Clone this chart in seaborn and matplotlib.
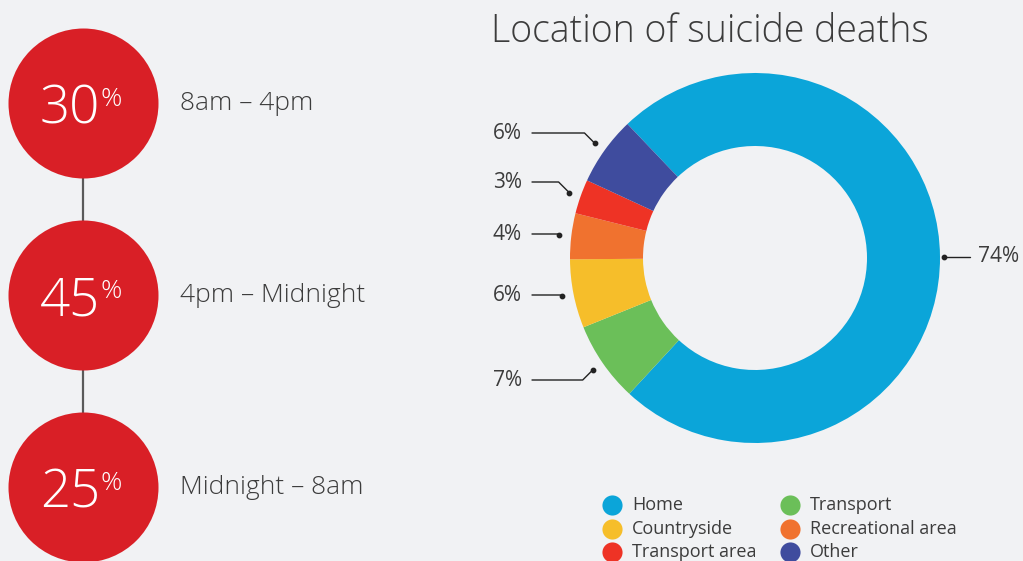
import numpy as np
import pandas as pd
import matplotlib
matplotlib.use('Agg')
import matplotlib.pyplot as plt
import seaborn as sns

# data
time_pcts = [30, 45, 25]
time_ranges = ['8am – 4pm', '4pm – Midnight', 'Midnight – 8am']

locations = ['Home', 'Transport', 'Countryside', 'Recreational area', 'Transport area', 'Other']
location_pcts = [74, 7, 6, 4, 3, 6]
location_colors = ['#0ba5d9', '#6bbf59', '#f6be2a', '#f0722f', '#ee3325', '#3f4c9e']

W, H = 1023, 561
BG = '#f1f2f4'
TXT = '#3c3c3c'

sns.set_theme(style='white')
plt.rcParams['font.family'] = ['Open Sans', 'DejaVu Sans']

fig = plt.figure(figsize=(W / 100, H / 100), dpi=100)
fig.patch.set_facecolor(BG)
ax = fig.add_axes([0, 0, 1, 1])
ax.set_facecolor(BG)

# left: time of day circles
circle_x = 83
circle_y = [103, 295, 487]
ax.plot([circle_x, circle_x], [H - circle_y[0], H - circle_y[-1]], color='#5a5a5a', lw=1.6, zorder=1)
df_time = pd.DataFrame({'x': [circle_x] * 3, 'y': [H - y for y in circle_y]})
sns.scatterplot(data=df_time, x='x', y='y', s=108 ** 2, color='#d91f26', linewidth=0, ax=ax, zorder=2)
for pct, rng, cy in zip(time_pcts, time_ranges, circle_y):
    ax.text(circle_x - 13, H - cy - 20, str(pct), color='white', fontsize=38, fontweight='light',
            ha='center', va='baseline', zorder=3)
    ax.text(circle_x + 18, H - cy - 3, '%', color='white', fontsize=19, fontweight='light',
            ha='left', va='baseline', zorder=3)
    ax.text(180, H - cy, rng, color=TXT, fontsize=19, fontweight='light', ha='left', va='center')

# right: donut
cx, cy0, R, r_in = 755, H - 258, 185, 112
wedges, _ = ax.pie(location_pcts, colors=location_colors, center=(cx, cy0), radius=R,
                   startangle=133.6, counterclock=False, frame=True,
                   wedgeprops=dict(width=R - r_in, edgecolor='none'))

ax.text(491, H - 32, 'Location of suicide deaths', color=TXT, fontsize=27, fontweight='light',
        ha='left', va='center')

# leader lines
label_y = {'Transport': 380, 'Countryside': 295, 'Recreational area': 234,
           'Transport area': 182, 'Other': 133}
for name, pct, w in zip(locations, location_pcts, wedges):
    mid = np.deg2rad((w.theta1 + w.theta2) / 2)
    dx, dy = cx + 1.065 * R * np.cos(mid), cy0 + 1.065 * R * np.sin(mid)
    if name == 'Home':
        dx = cx + 1.02 * R
        ax.plot([dx, dx + 26], [dy, dy], color='#222222', lw=1)
        ax.scatter([dx], [dy], s=10, color='#222222', zorder=5)
        ax.text(978, dy, f'{pct}%', color=TXT, fontsize=15, ha='left', va='center')
        continue
    ly = H - label_y[name]
    ex = dx - abs(dy - ly)
    ax.plot([532, ex, dx], [ly, ly, dy], color='#222222', lw=1)
    ax.scatter([dx], [dy], s=10, color='#222222', zorder=5)
    ax.text(522, ly, f'{pct}%', color=TXT, fontsize=15, ha='right', va='center')

# legend
leg_x = [612, 790]
leg_y = [505, 529, 552]
for i, (name, col) in enumerate(zip(locations, location_colors)):
    lx, ly = leg_x[i % 2], H - leg_y[i // 2]
    ax.scatter([lx], [ly], s=14.5 ** 2, color=col, linewidths=0)
    ax.text(lx + 20, ly, name, color=TXT, fontsize=13, ha='left', va='center')

ax.set_xlim(0, W)
ax.set_ylim(0, H)
ax.set_aspect('equal')
ax.axis('off')

fig.savefig('out.png', dpi=100, facecolor=BG)
